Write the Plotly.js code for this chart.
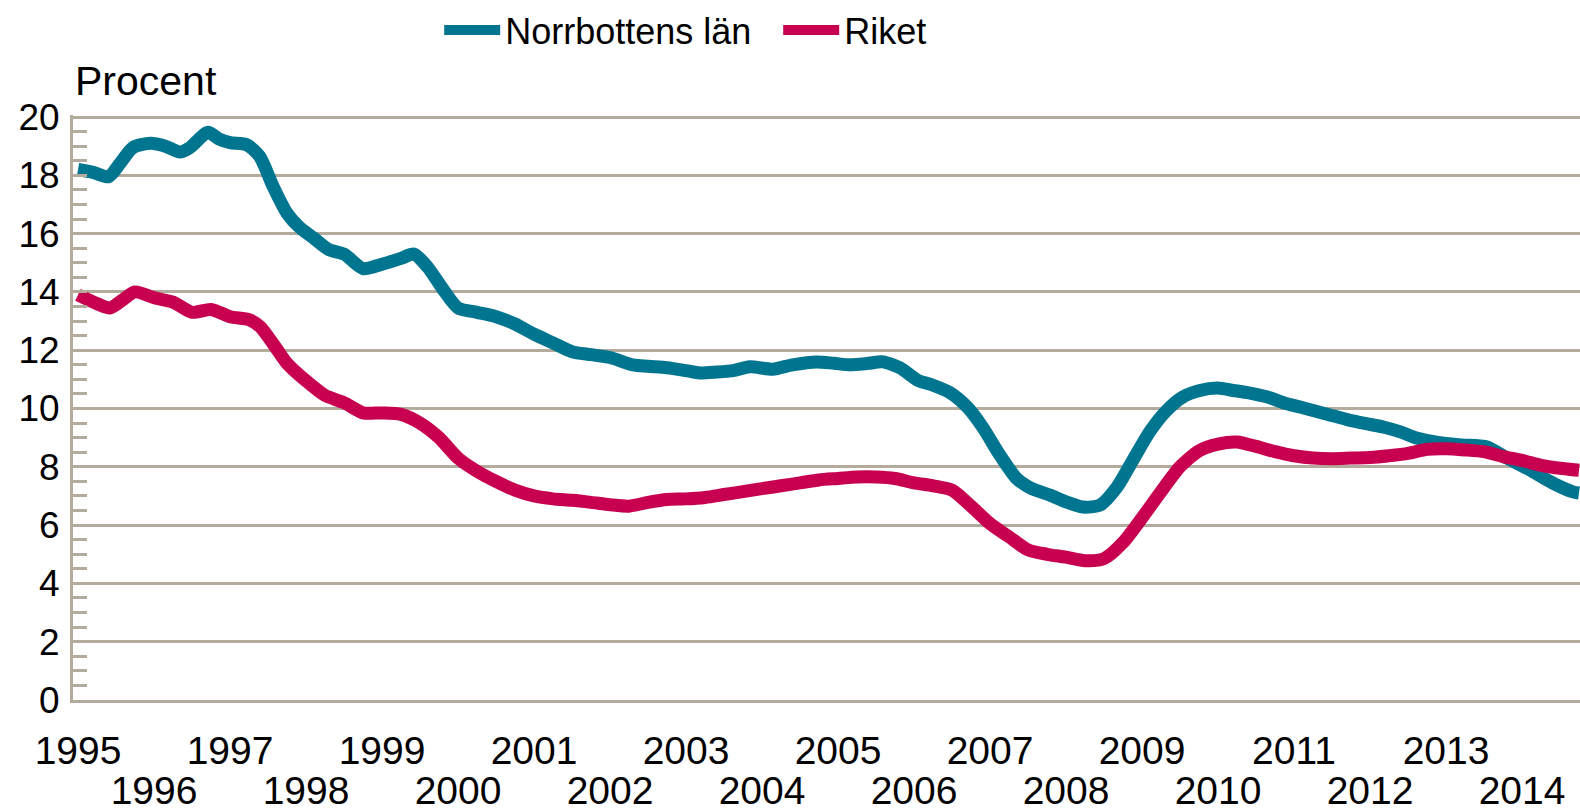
<!DOCTYPE html>
<html><head><meta charset="utf-8">
<script src="https://cdn.plot.ly/plotly-3.0.1.min.js"></script>
<style>html,body{margin:0;padding:0;background:#fff}#chart{width:1580px;height:812px}</style>
</head><body><div id="chart"></div>
<script>
// Norrbottens län (teal), values read at decimal-year positions
const norrX = [1995.0,1995.2,1995.4,1995.55,1995.72,1995.95,1996.15,1996.34,1996.47,1996.71,
  1996.85,1997.0,1997.22,1997.39,1997.57,1997.75,1997.92,1998.1,1998.3,1998.5,
  1998.75,1999.0,1999.25,1999.42,1999.6,1999.8,2000.0,2000.25,2000.5,2000.75,
  2001.0,2001.25,2001.5,2001.75,2002.0,2002.3,2002.5,2002.75,2003.0,2003.18,
  2003.4,2003.62,2003.84,2004.14,2004.4,2004.72,2004.95,2005.16,2005.4,2005.59,
  2005.82,2006.04,2006.25,2006.47,2006.7,2006.9,2007.13,2007.35,2007.55,2007.79,
  2008.0,2008.22,2008.45,2008.67,2008.88,2009.1,2009.33,2009.54,2009.76,2009.99,
  2010.2,2010.42,2010.64,2010.86,2011.08,2011.3,2011.47,2011.7,2011.95,2012.2,
  2012.4,2012.6,2012.8,2013.0,2013.2,2013.54,2013.8,2014.1,2014.4,2014.67,2014.75];
const norrY = [18.2,18.1,17.95,18.4,18.95,19.1,19.0,18.8,18.95,19.48,
  19.25,19.12,19.05,18.65,17.6,16.7,16.2,15.85,15.45,15.3,
  14.8,14.95,15.15,15.3,14.85,14.1,13.45,13.3,13.15,12.9,
  12.55,12.25,11.95,11.85,11.75,11.5,11.45,11.4,11.3,11.22,
  11.25,11.3,11.43,11.35,11.5,11.6,11.55,11.5,11.55,11.6,
  11.39,10.98,10.8,10.55,10.05,9.37,8.4,7.6,7.25,7.03,
  6.8,6.62,6.69,7.3,8.23,9.2,9.95,10.4,10.62,10.7,
  10.62,10.53,10.4,10.2,10.05,9.9,9.78,9.62,9.48,9.35,
  9.2,9.0,8.88,8.8,8.75,8.68,8.3,7.9,7.45,7.14,7.1];

// Riket (crimson)
const riketX = [1995.0,1995.25,1995.42,1995.6,1995.75,1996.0,1996.25,1996.5,1996.75,
  1997.0,1997.25,1997.4,1997.6,1997.75,1998.0,1998.25,1998.5,1998.75,
  1999.0,1999.25,1999.5,1999.75,2000.0,2000.25,2000.5,2000.75,
  2001.0,2001.25,2001.5,2001.75,2002.0,2002.25,2002.5,2002.75,
  2003.0,2003.25,2003.5,2003.75,2004.0,2004.25,2004.5,2004.75,
  2005.0,2005.25,2005.5,2005.75,2006.0,2006.25,2006.5,2006.75,
  2007.0,2007.25,2007.5,2007.75,2008.0,2008.25,2008.5,2008.75,
  2009.0,2009.25,2009.5,2009.75,2010.0,2010.25,2010.5,2010.75,
  2011.0,2011.25,2011.5,2011.75,2012.0,2012.25,2012.5,2012.75,
  2013.0,2013.25,2013.5,2013.75,2014.0,2014.25,2014.5,2014.75];
const riketY = [13.9,13.6,13.45,13.75,14.0,13.8,13.65,13.3,13.4,
  13.15,13.05,12.8,12.1,11.55,10.95,10.45,10.2,9.85,
  9.85,9.8,9.5,9.0,8.3,7.85,7.5,7.2,
  7.0,6.9,6.85,6.78,6.7,6.65,6.78,6.88,
  6.9,6.95,7.05,7.15,7.25,7.35,7.45,7.55,
  7.6,7.65,7.65,7.6,7.45,7.35,7.2,6.65,
  6.05,5.6,5.15,5.0,4.9,4.78,4.85,5.4,
  6.25,7.15,8.0,8.55,8.78,8.85,8.7,8.52,
  8.38,8.3,8.28,8.3,8.32,8.38,8.46,8.6,
  8.62,8.58,8.52,8.35,8.22,8.05,7.95,7.88];

const seriesNames = ['Norrbottens län', 'Riket'];
const oddYears = [1995,1997,1999,2001,2003,2005,2007,2009,2011,2013];
const evenYears = [1996,1998,2000,2002,2004,2006,2008,2010,2012,2014];
const yTicks = [0,2,4,6,8,10,12,14,16,18,20];
const yTitle = 'Procent';

const FONT = 'Arial, "Liberation Sans", sans-serif';
const GRID = '#b4ab9d';
const TEAL = '#00758f';
const RED = '#c7004f';

const traces = [
  {x: norrX, y: norrY, name: seriesNames[0], type: 'scatter', mode: 'lines',
   xaxis: 'x', yaxis: 'y',
   line: {color: TEAL, width: 13, shape: 'spline', smoothing: 0.7}},
  {x: riketX, y: riketY, name: seriesNames[1], type: 'scatter', mode: 'lines',
   xaxis: 'x2', yaxis: 'y',
   line: {color: RED, width: 13, shape: 'spline', smoothing: 0.7}}
];

const xRange = [1994.934, 2014.763];

const layout = {
  width: 1580, height: 812,
  margin: {l: 73, r: 0, t: 115, b: 112},
  paper_bgcolor: '#ffffff', plot_bgcolor: '#ffffff',
  font: {family: FONT, color: '#000000'},
  showlegend: true,
  legend: {orientation: 'h', x: 0.243, xanchor: 'left', y: 1.146, yanchor: 'middle',
           font: {family: FONT, size: 36, color: '#000'}, itemwidth: 56,
           entrywidth: 268, entrywidthmode: 'pixels',
           bgcolor: 'rgba(0,0,0,0)'},
  xaxis: {range: xRange, tickmode: 'array', tickvals: oddYears, ticktext: oddYears.map(String),
          showgrid: false, zeroline: false, showline: true, linecolor: GRID, linewidth: 3,
          ticks: '', tickfont: {family: FONT, size: 39, color: '#000'},
          ticklabelstandoff: 14, fixedrange: true},
  xaxis2: {overlaying: 'x', matches: 'x', anchor: 'y', side: 'bottom', range: xRange,
           tickmode: 'array', tickvals: evenYears, ticktext: evenYears.map(String),
           showgrid: false, zeroline: false, showline: false, ticks: '',
           tickfont: {family: FONT, size: 39, color: '#000'},
           ticklabelstandoff: 64, fixedrange: true},
  yaxis: {range: [0, 20.07], tickmode: 'array', tickvals: yTicks, ticktext: yTicks.map(String),
          showgrid: true, gridcolor: GRID, gridwidth: 3, zeroline: false,
          showline: true, linecolor: GRID, linewidth: 3,
          ticks: 'inside', ticklen: 14, tickwidth: 3, tickcolor: GRID,
          minor: {dtick: 0.5, tick0: 0, ticks: 'inside', ticklen: 14, tickwidth: 3, tickcolor: GRID, showgrid: false},
          tickfont: {family: FONT, size: 37, color: '#000'},
          ticklabelstandoff: 3, fixedrange: true},
  annotations: [{text: yTitle, xref: 'paper', yref: 'paper', x: 0, y: 1.058,
                 xanchor: 'left', yanchor: 'middle', showarrow: false,
                 font: {family: FONT, size: 41, color: '#000'}}]
};

Plotly.newPlot('chart', traces, layout, {displayModeBar: false, staticPlot: true});
</script>
</body></html>
